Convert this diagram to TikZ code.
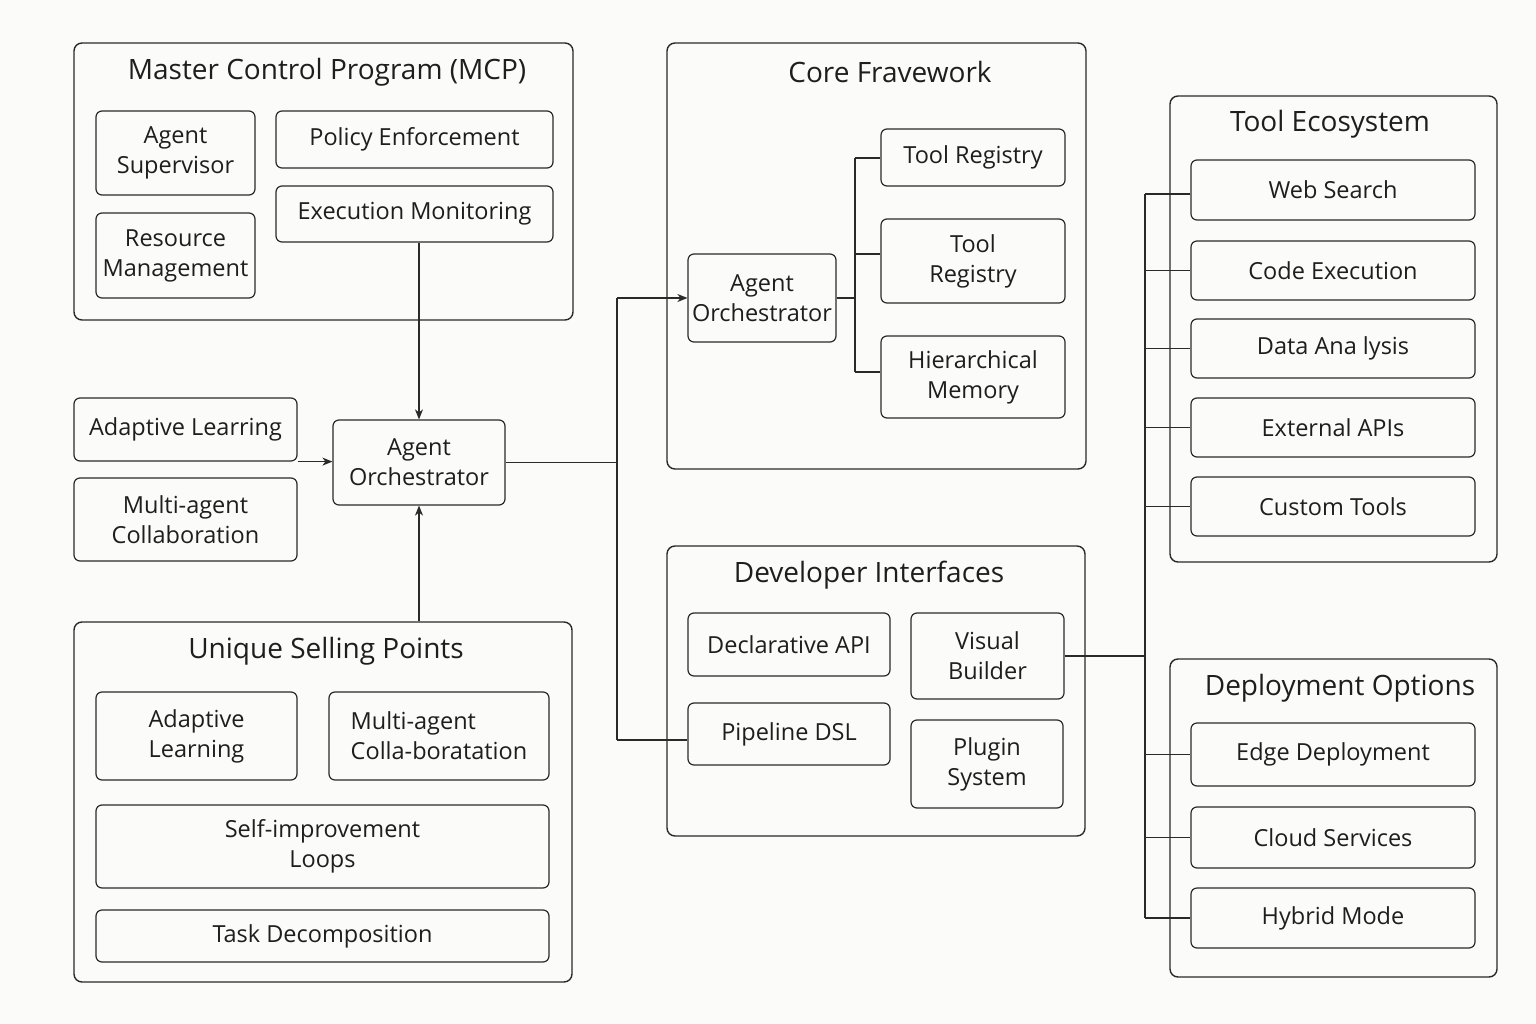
\documentclass[tikz,border=0pt]{standalone}
\usepackage{fontspec}
\setmainfont{Open Sans}
\usetikzlibrary{arrows.meta,calc}
\definecolor{bg}{HTML}{FBFBF9}
\definecolor{ink}{HTML}{1E1E1E}
\definecolor{edge}{HTML}{2A2A2A}
\tikzset{
  box/.style={draw=edge, line width=1.2pt, rounded corners=6pt, inner sep=0pt, align=center, text=ink,
    font=\fontsize{23.5}{30}\selectfont},
  frame/.style={draw=edge, line width=1.4pt, rounded corners=8pt, inner sep=0pt},
  ttl/.style={text=ink, font=\fontsize{28}{32}\selectfont, inner sep=0pt},
  wire/.style={draw=edge, line width=1.1pt},
  arr/.style={wire, -{Stealth[length=10pt,width=8pt,inset=3pt]}},
}
\newcommand{\mybox}[7][box]{\node[#1, minimum width={(#5-#3)*1pt}, minimum height={(#6-#4)*1pt}] (#2) at ({(#3+#5)/2},{(#4+#6)/2}) {#7};}
\begin{document}
\begin{tikzpicture}[x=1pt,y=-1pt]
\fill[bg] (0,0) rectangle (1536,1024);
\useasboundingbox (0,0) rectangle (1536,1024);

% ---------- MCP ----------
\mybox[frame]{mcp}{74}{43}{573}{320}{}
\node[ttl] (tmcp) at (327,72) {Master Control Program (MCP)};
\mybox{as}{96}{111}{255}{195}{Agent\\Supervisor}
\mybox{pe}{276}{111}{553}{168}{Policy Enforcement}
\mybox{rm}{96}{213}{255}{298}{Resource\\Management}
\mybox{em}{276}{186}{553}{242}{Execution Monitoring}

% ---------- middle left ----------
\mybox{al}{74}{398}{297}{461}{Adaptive Learring}
\mybox{mac}{74}{478}{297}{561}{Multi-agent\\Collaboration}
\mybox{orch}{333}{420}{505}{505}{Agent\\Orchestrator}

% ---------- USP ----------
\mybox[frame]{usp}{74}{622}{572}{982}{}
\node[ttl] (tusp) at (326,651) {Unique Selling Points};
\mybox{ual}{96}{692}{297}{780}{Adaptive\\Learning}
\mybox[box,align=left]{umac}{329}{692}{549}{780}{Multi-agent\\Colla-boratation}
\mybox{sil}{96}{805}{549}{888}{Self-improvement\\Loops}
\mybox{td}{96}{910}{549}{962}{Task Decomposition}

% ---------- Core ----------
\mybox[frame]{core}{667}{43}{1086}{469}{}
\node[ttl] (tcore) at (890,72) {Core Fravework};
\mybox{corch}{688}{254}{836}{342}{Agent\\Orchestrator}
\mybox{tr1}{881}{129}{1065}{186}{Tool Registry}
\mybox{tr2}{881}{219}{1065}{303}{Tool\\Registry}
\mybox{hm}{881}{336}{1065}{418}{Hierarchical\\Memory}

% ---------- Developer Interfaces ----------
\mybox[frame]{dev}{667}{546}{1085}{836}{}
\node[ttl] (tdev) at (869,575) {Developer Interfaces};
\mybox{dapi}{688}{613}{890}{676}{Declarative API}
\mybox{vb}{911}{613}{1064}{699}{Visual\\Builder}
\mybox{pdsl}{688}{703}{890}{765}{Pipeline DSL}
\mybox{ps}{911}{720}{1063}{808}{Plugin\\System}

% ---------- Tool Ecosystem ----------
\mybox[frame]{te}{1170}{96}{1497}{562}{}
\node[ttl] (tte) at (1330,124) {Tool Ecosystem};
\mybox{ws}{1191}{160}{1475}{220}{Web Search}
\mybox{ce}{1191}{241}{1475}{300}{Code Execution}
\mybox{da}{1191}{319}{1475}{378}{Data Ana lysis}
\mybox{ea}{1191}{398}{1475}{457}{External APIs}
\mybox{ct}{1191}{477}{1475}{536}{Custom Tools}

% ---------- Deployment ----------
\mybox[frame]{dep}{1170}{659}{1497}{977}{}
\node[ttl] (tdep) at (1340,688) {Deployment Options};
\mybox{ed}{1191}{723}{1475}{786}{Edge Deployment}
\mybox{cs}{1191}{807}{1475}{868}{Cloud Services}
\mybox{hy}{1191}{888}{1475}{948}{Hybrid Mode}

% ---------- connectors ----------
\draw[arr] (orch.north |- em.south) -- (orch.north);
\draw[arr] (orch.south |- usp.north) -- (orch.south);
\draw[arr] (al.south east) -- (al.south east -| orch.west);

\coordinate (jt) at (617,298);
\coordinate (jb) at (617,740);
\draw[wire] (orch.east) -- (orch.east -| jt);
\draw[wire] (jt) -- (jb);
\draw[arr] (jt) -- (corch.west);
\draw[wire] (jb) -- (jb -| pdsl.west);

\coordinate (ct1) at (855,158);
\coordinate (ct2) at (855,254);
\coordinate (ct3) at (855,372);
\draw[wire] (corch.east) -- (corch.east -| ct1);
\draw[wire] (ct1) -- (ct3);
\draw[wire] (ct1) -- (ct1 -| tr1.west);
\draw[wire] (ct2) -- (ct2 -| tr2.west);
\draw[wire] (ct3) -- (ct3 -| hm.west);

\coordinate (bt) at (1145,194);
\coordinate (bb) at (1145,918);
\draw[wire] (bt) -- (bb);
\draw[wire] (vb.east) -- (vb.east -| bt);
\draw[wire] (bt) -- (bt -| ws.west);
\foreach \n in {ce,da,ea,ct,ed,cs}{\draw[wire] (\n.west -| bt) -- (\n.west);}
\draw[wire] (bb) -- (bb -| hy.west);
\end{tikzpicture}
\end{document}
